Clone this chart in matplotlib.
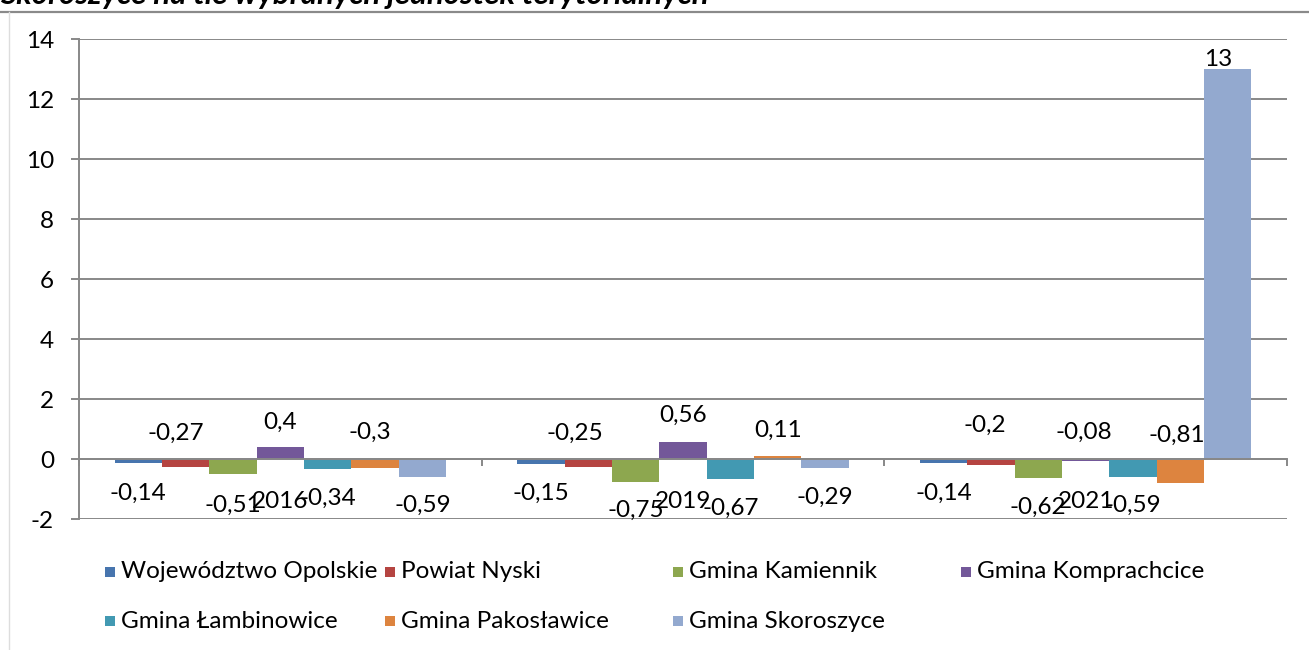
import matplotlib
matplotlib.use("Agg")
import matplotlib.pyplot as plt
from matplotlib.patches import Rectangle
from matplotlib.lines import Line2D
import numpy as np

# ---- data ----
years = ["2016", "2019", "2021"]
series_names = ["Województwo Opolskie", "Powiat Nyski", "Gmina Kamiennik",
                "Gmina Komprachcice", "Gmina Łambinowice", "Gmina Pakosławice",
                "Gmina Skoroszyce"]
woj_opolskie = [-0.14, -0.15, -0.14]
powiat_nyski = [-0.27, -0.25, -0.20]
kamiennik = [-0.51, -0.75, -0.62]
komprachcice = [0.40, 0.56, -0.08]
lambinowice = [-0.34, -0.67, -0.59]
pakoslawice = [-0.30, 0.11, -0.81]
skoroszyce = [-0.59, -0.29, 13.0]
yticks = [-2, 0, 2, 4, 6, 8, 10, 12, 14]
title_text = "Skoroszyce na tle wybranych jednostek terytorialnych"

# ---- styles / label placement (positions, not data) ----
colors = ["#4775AE", "#B54441", "#8DA74F", "#735899", "#4299B2", "#DD843F", "#93A9CF"]
label_y = [
    [-1.13, -1.13, -1.13],
    [0.87, 0.87, 1.13],
    [-1.53, -1.70, -1.60],
    [1.23, 1.47, 0.90],
    [-1.30, -1.63, -1.53],
    [0.90, 0.97, 0.80],
    [-1.53, -1.27, 13.3],
]
label_dx = [
    [0, 0, 0],
    [-0.025, -0.032, -0.015],
    [0, 0, 0],
    [0, 0, -0.005],
    [0, 0, 0],
    [-0.012, 0, -0.008],
    [0, 0, -0.025],
]

values = [woj_opolskie, powiat_nyski, kamiennik, komprachcice,
          lambinowice, pakoslawice, skoroszyce]

FONT = "Lato"
FS = 17.5

W, H = 1309, 650
fig = plt.figure(figsize=(W / 100, H / 100), dpi=100)
ax = fig.add_axes([79 / W, (H - 519) / H, (1287 - 79) / W, (519 - 39) / H])

n = len(values)
bw = 1.0 / (n + 1.5)
x = np.arange(len(years))
for i, (vals, c) in enumerate(zip(values, colors)):
    xs = x + (i - (n - 1) / 2) * bw
    ax.bar(xs, vals, width=bw, color=c, linewidth=0, zorder=2)
    for j, v in enumerate(vals):
        s = f"{v:g}".replace(".", ",")
        ax.text(xs[j] + label_dx[i][j], label_y[i][j], s, ha="center", va="center",
                fontsize=FS, family=FONT, color="black", zorder=5)

ax.set_xlim(-0.5, len(years) - 0.5)
ax.set_ylim(yticks[0], yticks[-1])
ax.set_yticks(yticks)
ax.set_yticklabels([str(t) for t in yticks], fontsize=FS, family=FONT)
ax.yaxis.grid(True, color="#888888", linewidth=1.4, zorder=0)
ax.set_axisbelow(True)

for s in ["top", "right"]:
    ax.spines[s].set_visible(False)
ax.spines["left"].set_color("#888888")
ax.spines["left"].set_linewidth(1.4)
ax.spines["bottom"].set_position(("data", 0))
ax.spines["bottom"].set_color("#888888")
ax.spines["bottom"].set_linewidth(1.4)
ax.spines["bottom"].set_zorder(4)

ax.tick_params(axis="y", length=6, width=1.4, color="#888888", pad=12)
ax.set_xticks(np.arange(-0.5, len(years)), minor=False)
ax.set_xticklabels([])
ax.tick_params(axis="x", which="major", length=5, width=1.4, color="#888888")
ax.set_xticks(x, minor=True)
ax.set_xticklabels(years, minor=True, fontsize=FS, family=FONT)
ax.tick_params(axis="x", which="minor", length=0, pad=23)

# legend (manual, Excel-like fixed columns)
leg_x = [105, 385, 673, 961, 105, 385, 673]
leg_y = [572, 572, 572, 572, 621, 621, 621]
for name, c, lx, ly in zip(series_names, colors, leg_x, leg_y):
    fig.patches.append(Rectangle((lx / W, (H - ly - 5) / H), 10 / W, 10 / H,
                                 transform=fig.transFigure, facecolor=c,
                                 edgecolor="none"))
    fig.text((lx + 16) / W, (H - ly) / H, name, fontsize=FS, family=FONT,
             va="center", ha="left")

# chart border lines and cut-off title (cut off at the top in the original)
fig.add_artist(Line2D([0, 1], [(H - 12) / H] * 2, color="#8a8a8a", linewidth=1.6))
fig.add_artist(Line2D([9 / W] * 2, [0, (H - 12) / H], color="#dddddd", linewidth=1.0))
fig.text(0, (H - 4) / H, title_text, fontsize=22.5, family=FONT, style="italic",
         weight="bold", va="baseline", ha="left")

fig.savefig("out.png", dpi=100)
